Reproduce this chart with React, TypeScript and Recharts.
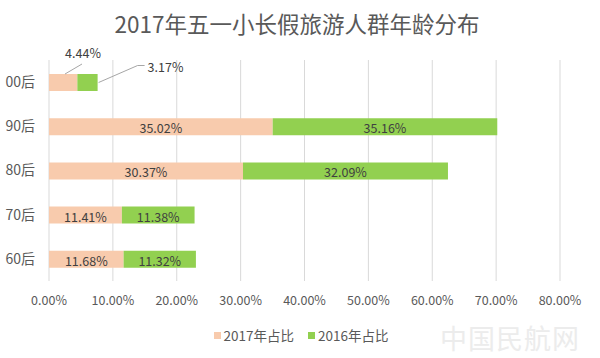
import React from 'react';
import { BarChart, Bar, XAxis, YAxis, CartesianGrid, LabelList } from 'recharts';

const categories = ['00后', '90后', '80后', '70后', '60后'];
const share2017 = [4.44, 35.02, 30.37, 11.41, 11.68];
const share2016 = [3.17, 35.16, 32.09, 11.38, 11.32];
const xTicks = [0, 10, 20, 30, 40, 50, 60, 70, 80];
const seriesNames = ['2017年占比', '2016年占比'];
const title = '2017年五一小长假旅游人群年龄分布';

const data = categories.map((c, i) => ({ name: c, s2017: share2017[i], s2016: share2016[i] }));

const FONT = '"Noto Sans CJK SC", "Noto Sans", sans-serif';
const PEACH = '#F8CBAD';
const GREEN = '#92D050';
const TEXT = '#595959';
const LABEL = '#404040';

const fmt = (v: number) => `${Number(v).toFixed(2)}%`;

const makeLabel = (series: 0 | 1) => (props: any) => {
  const vb = props.viewBox || {};
  const x = props.x ?? vb.x;
  const y = props.y ?? vb.y;
  const width = props.width ?? vb.width;
  const height = props.height ?? vb.height;
  const value = props.value;
  const index = props.index;
  if (index === 0) {
    if (series === 0) {
      const sx = x + 16;
      const sy = y;
      return (
        <g>
          <line x1={sx} y1={sy} x2={sx + 17} y2={sy - 10} stroke="#a6a6a6" strokeWidth={1} />
          <text x={sx + 18} y={sy - 22} textAnchor="middle" dominantBaseline="central" fontSize={12.5} fill={LABEL} fontFamily={FONT}>
            {fmt(value)}
          </text>
        </g>
      );
    }
    const sx = x + width + 1;
    const sy = y + height / 2;
    return (
      <g>
        <polyline points={`${sx},${sy} ${sx + 39},${sy - 17} ${sx + 46},${sy - 17}`} fill="none" stroke="#a6a6a6" strokeWidth={1} />
        <text x={sx + 49} y={sy - 16} textAnchor="start" dominantBaseline="central" fontSize={12.5} fill={LABEL} fontFamily={FONT}>
          {fmt(value)}
        </text>
      </g>
    );
  }
  return (
    <text x={x + width / 2} y={y + height / 2 + 1} textAnchor="middle" dominantBaseline="central" fontSize={12.5} fill={LABEL} fontFamily={FONT}>
      {fmt(value)}
    </text>
  );
};

const LegendBlock = () => (
  <div style={{ position: 'absolute', left: 0, top: 325, width: 602, display: 'flex', justifyContent: 'center', gap: 14, fontFamily: FONT, fontSize: 13.5, color: TEXT, lineHeight: '20px' }}>
    {seriesNames.map((n, i) => (
      <div key={n} style={{ display: 'flex', alignItems: 'center' }}>
        <span style={{ display: 'inline-block', width: 7, height: 7, background: i === 0 ? PEACH : GREEN, marginRight: 3 }} />
        <span>{n}</span>
      </div>
    ))}
  </div>
);

export default function App() {
  return (
    <div style={{ position: 'absolute', left: 0, top: 0, width: 600, height: 358, background: '#fff', fontFamily: FONT, overflow: 'hidden' }}>
      <div style={{ position: 'absolute', left: 0, top: 8, width: 594, textAlign: 'center', fontSize: 22.5, color: TEXT, lineHeight: '30px' }}>
        {title}
      </div>
      <div style={{ position: 'absolute', left: 0, top: 0 }}>
        <BarChart
          width={600}
          height={358}
          data={data}
          layout="vertical"
          margin={{ top: 60, right: 40, bottom: 47, left: 9 }}
          barSize={17}
        >
          <CartesianGrid horizontal={false} vertical={true} stroke="#d9d9d9" />
          <XAxis
            type="number"
            domain={[0, 80]}
            ticks={xTicks}
            tickFormatter={fmt}
            axisLine={false}
            tickLine={false}
            tickMargin={9}
            interval={0}
            height={30}
            tick={{ fontSize: 12.5, fill: TEXT, fontFamily: FONT }}
          />
          <YAxis
            type="category"
            dataKey="name"
            width={40}
            axisLine={false}
            tickLine={false}
            tickMargin={8}
            tick={{ fontSize: 14, fill: TEXT, fontFamily: FONT }}
          />
          <Bar dataKey="s2017" stackId="a" fill={PEACH} isAnimationActive={false} name={seriesNames[0]}>
            <LabelList dataKey="s2017" content={makeLabel(0)} />
          </Bar>
          <Bar dataKey="s2016" stackId="a" fill={GREEN} isAnimationActive={false} name={seriesNames[1]}>
            <LabelList dataKey="s2016" content={makeLabel(1)} />
          </Bar>
        </BarChart>
      </div>
      <LegendBlock />
      <div style={{ position: 'absolute', left: 440, top: 322, fontSize: 27, lineHeight: '32px', color: '#ececec', letterSpacing: 1, fontFamily: FONT }}>
        中国民航网
      </div>
    </div>
  );
}
